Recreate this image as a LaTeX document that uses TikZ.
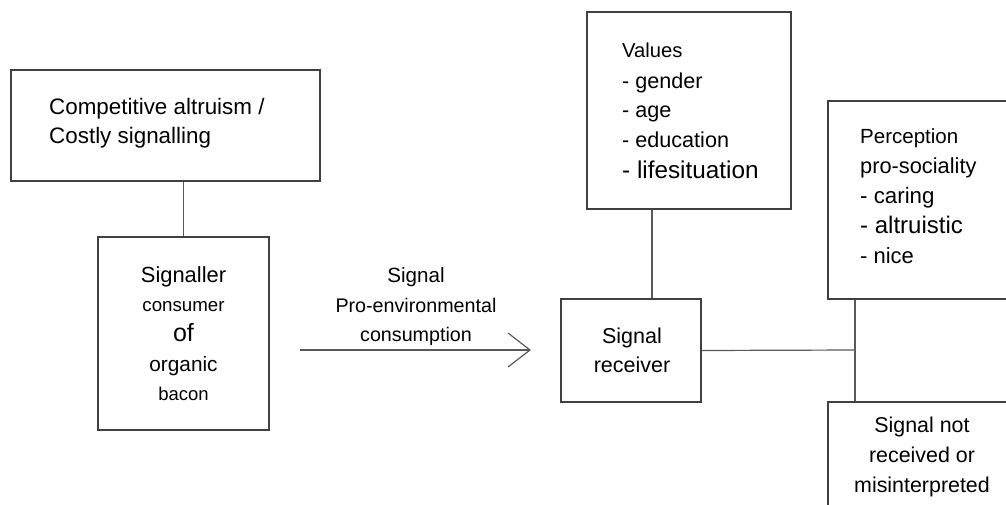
\documentclass[tikz,border=0pt]{standalone}
\usepackage{fontspec}
\setmainfont{Liberation Sans}
\usetikzlibrary{arrows.meta}
\begin{document}
\begin{tikzpicture}[x=1pt,y=-1pt,
  box/.style={draw=black!75,line width=1.2pt,rectangle,inner sep=0pt,minimum width=#1},
  conn/.style={draw=black!65,line width=1.2pt},
  t/.style={inner sep=0pt,font=\fontsize{#1}{30}\selectfont,text=black},
  t/.default=22]
\clip (0,0) rectangle (1006,504);
\useasboundingbox (0,0) rectangle (1006,504);
% boxes
\node[box=309pt,minimum height=111pt] (A) at (165.5,125.5) {};
\node[box=171pt,minimum height=193pt] (B) at (183.5,333.5) {};
\node[box=140pt,minimum height=103pt] (R) at (631,350.5) {};
\node[box=204pt,minimum height=197pt] (V) at (689,110.5) {};
\node[box=202pt,minimum height=198pt] (P) at (929,200) {};
\node[box=202pt,minimum height=118pt] (N) at (929,461) {};
% texts box A
\node[t=22.4,anchor=base west] (a1) at (49,114) {Competitive altruism /};
\node[t=22.4,anchor=base west] (a2) at (49,143.5) {Costly signalling};
% box B
\node[t=21.9,anchor=base] (b1) at (183.5,282) {Signaller};
\node[t=18.7,anchor=base] (b2) at (183.5,311) {consumer};
\node[t=25,anchor=base] (b3) at (183.5,341) {of};
\node[t=20.8,anchor=base] (b4) at (183.5,371) {organic};
\node[t=18.5,anchor=base] (b5) at (183.5,400.5) {bacon};
% arrow label
\node[t=20.6,anchor=base] (s1) at (416,282) {Signal};
\node[t=19.7,anchor=base] (s2) at (416,312) {Pro-environmental};
\node[t=19.7,anchor=base] (s3) at (416,341) {consumption};
% receiver
\node[t=21.5,anchor=base] (r1) at (632,343) {Signal};
\node[t=21.5,anchor=base] (r2) at (632,372.5) {receiver};
% values
\node[t=20.2,anchor=base west] (v1) at (622,57) {Values};
\node[t=21.6,anchor=base west] (v2) at (622,88) {- gender};
\node[t=21.6,anchor=base west] (v3) at (622,117.5) {- age};
\node[t=21.6,anchor=base west] (v4) at (622,147.5) {- education};
\node[t=24.3,anchor=base west] (v5) at (622,178) {- lifesituation};
% perception
\node[t=20.5,anchor=base west] (p1) at (860,143) {Perception};
\node[t=21.8,anchor=base west] (p2) at (860,173) {pro-sociality};
\node[t=22.3,anchor=base west] (p3) at (860,203) {- caring};
\node[t=24,anchor=base west] (p4) at (860,233) {- altruistic};
\node[t=22,anchor=base west] (p5) at (860,263) {- nice};
% signal not
\node[t=21.4,anchor=base] (n1) at (922,432.5) {Signal not};
\node[t=21.4,anchor=base] (n2) at (922,462.5) {received or};
\node[t=21.4,anchor=base] (n3) at (922,492.5) {misinterpreted};
% connectors
\coordinate (vj) at (652,209);
\coordinate (jj) at (855,350);
\coordinate (as) at (300,350);
\coordinate (ae) at (531,350);
\draw[conn] (B.north) -- (B.north |- A.south);
\draw[conn] (V.south -| vj) -- (R.north -| vj);
\draw[conn] (R.east) -- (jj);
\draw[conn] (P.south -| jj) -- (N.north -| jj);
\draw[conn,-{Straight Barb[length=22pt,width=34pt,line width=1.2pt]}] (as) -- (ae);
\end{tikzpicture}
\end{document}
